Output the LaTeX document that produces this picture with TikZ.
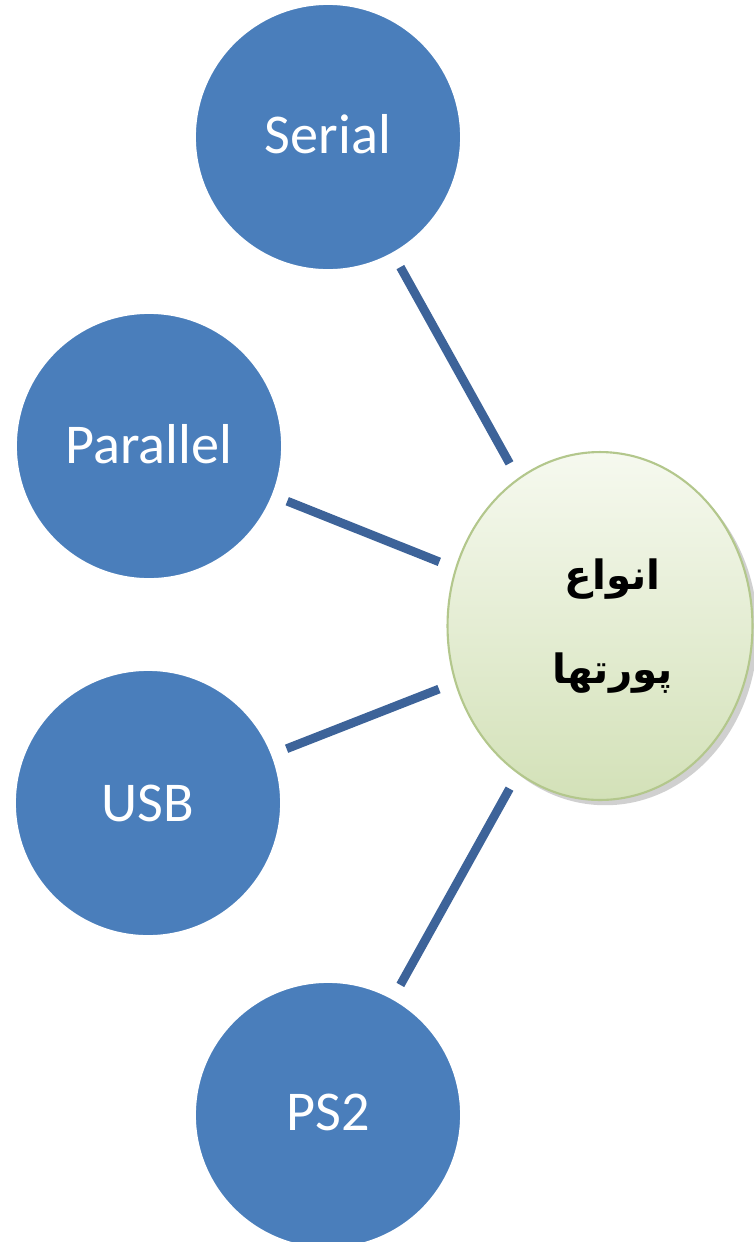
\documentclass[tikz,border=0pt]{standalone}
\usepackage{fontspec}
\setmainfont{Carlito}
\newfontfamily\arabicfont[Script=Arabic]{DejaVu Sans}
\TeXXeTstate=1
\usetikzlibrary{shapes.geometric,shadows}
\definecolor{portblue}{HTML}{4A7EBB}
\definecolor{linkblue}{HTML}{3D6399}
\definecolor{hubtop}{HTML}{F6F9EF}
\definecolor{hubbottom}{HTML}{D3E1B8}
\definecolor{hubedge}{HTML}{B3C78C}
\tikzset{
  portnode/.style={circle, fill=portblue, draw=white, line width=1pt, minimum size=5.32cm, inner sep=0pt,
    text=white, font=\fontsize{32}{36}\selectfont},
  hubnode/.style={ellipse, minimum width=6.1cm, minimum height=6.96cm, inner sep=0pt,
    top color=hubtop, bottom color=hubbottom, draw=hubedge, line width=1.2pt,
    drop shadow={shadow xshift=3pt, shadow yshift=-3pt, opacity=0.3, fill=black!60},
    align=center, font=\arabicfont\bfseries\fontsize{23}{56}\selectfont},
  linkline/.style={draw=linkblue, line width=5pt, shorten <=0.34cm, shorten >=0.3cm}
}
\begin{document}
\begin{tikzpicture}[x=0.02cm,y=-0.02cm]
\useasboundingbox[fill=white] (0,0) rectangle (754,1242);
\node[hubnode] (hub) at (600,626) {\hspace*{0.5cm}\beginR انواع\endR\\\hspace*{0.5cm}\raisebox{0.1cm}{\beginR پورتها\endR}};
\node[portnode] (serial) at (328,137) {\raisebox{0.14cm}{Serial}};
\node[portnode] (parallel) at (149,446) {\raisebox{0.1cm}{Parallel}};
\node[portnode] (usb) at (148,803) {USB};
\node[portnode] (ps2) at (328,1115) {\raisebox{0.1cm}{PS2}};
\draw[linkline] (hub) -- (serial);
\draw[linkline] (hub) -- (parallel);
\draw[linkline] (hub) -- (usb);
\draw[linkline] (hub) -- (ps2);
\end{tikzpicture}
\end{document}
